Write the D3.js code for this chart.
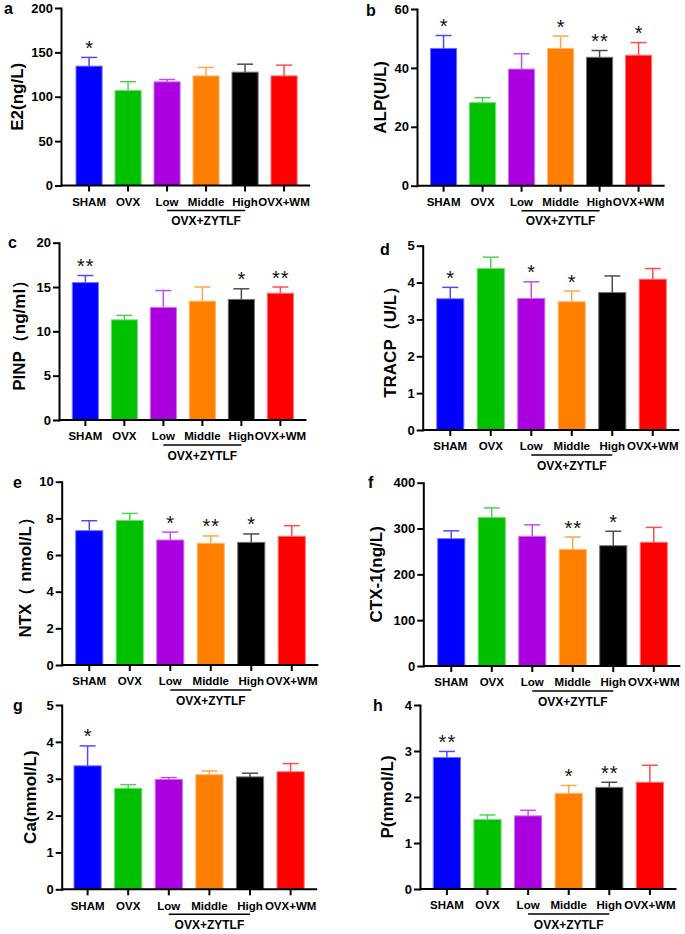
<!DOCTYPE html>
<html>
<head>
<meta charset="utf-8">
<script src="https://cdn.jsdelivr.net/npm/d3@7"></script>
<style>
  body { margin: 0; background: #fff; }
  svg { display: block; font-family: "Liberation Sans", Arial, sans-serif; }
</style>
</head>
<body>
<svg id="chart" width="685" height="934"></svg>
<script>
// groups on the x axis, same in every panel
const groups = ["SHAM", "OVX", "Low", "Middle", "High", "OVX+WM"];
const barColors = ["#0000ff", "#00c000", "#aa00e0", "#ff8000", "#000000", "#ff0000"];

// values: mean and upper error (SD)
const e2Mean = [134.5, 107, 116.8, 123.5, 127.7, 123.5];
const e2Sd = [9.8, 10, 2.6, 9.5, 9, 12.1];
const e2Stars = ["*", "", "", "", "", ""];

const alpMean = [46.6, 28.2, 39.6, 46.6, 43.6, 44.3];
const alpSd = [4.4, 1.7, 5.2, 4.2, 2.3, 4.3];
const alpStars = ["*", "", "", "*", "**", "*"];

const pinpMean = [15.5, 11.3, 12.7, 13.4, 13.6, 14.3];
const pinpSd = [0.8, 0.5, 1.9, 1.6, 1.2, 0.7];
const pinpStars = ["**", "", "", "", "*", "**"];

const tracpMean = [3.56, 4.38, 3.57, 3.48, 3.73, 4.09];
const tracpSd = [0.31, 0.31, 0.45, 0.29, 0.45, 0.29];
const tracpStars = ["*", "", "*", "*", "", ""];

const ntxMean = [7.33, 7.89, 6.82, 6.64, 6.69, 7.02];
const ntxSd = [0.54, 0.38, 0.43, 0.40, 0.46, 0.58];
const ntxStars = ["", "", "*", "**", "*", ""];

const ctxMean = [278, 324, 283, 254.5, 262.5, 270];
const ctxSd = [17, 21, 25, 27, 31.5, 32.5];
const ctxStars = ["", "", "", "**", "*", ""];

const caMean = [3.35, 2.74, 2.98, 3.11, 3.05, 3.19];
const caSd = [0.54, 0.10, 0.05, 0.10, 0.10, 0.22];
const caStars = ["*", "", "", "", "", ""];

const pMean = [2.86, 1.51, 1.59, 2.08, 2.21, 2.32];
const pSd = [0.13, 0.10, 0.12, 0.17, 0.11, 0.37];
const pStars = ["**", "", "", "*", "**", ""];

const panels = [
  { letter: "a", label: "E2(ng/L)", max: 200, step: 50, mean: e2Mean, sd: e2Sd, stars: e2Stars },
  { letter: "b", label: "ALP(U/L)", max: 60, step: 20, mean: alpMean, sd: alpSd, stars: alpStars },
  { letter: "c", label: "PINP（ng/ml）", max: 20, step: 5, mean: pinpMean, sd: pinpSd, stars: pinpStars },
  { letter: "d", label: "TRACP（U/L）", max: 5, step: 1, mean: tracpMean, sd: tracpSd, stars: tracpStars },
  { letter: "e", label: "NTX（ nmol/L）", max: 10, step: 2, mean: ntxMean, sd: ntxSd, stars: ntxStars },
  { letter: "f", label: "CTX-1(ng/L)", max: 400, step: 100, mean: ctxMean, sd: ctxSd, stars: ctxStars },
  { letter: "g", label: "Ca(mmol/L)", max: 5, step: 1, mean: caMean, sd: caSd, stars: caStars },
  { letter: "h", label: "P(mmol/L)", max: 4, step: 1, mean: pMean, sd: pSd, stars: pStars }
];

// where each panel sits on the page
const layout = [
  { x0: 61, top: 8, zero: 185.5, pitch: 39, off: 15, lx: 4, ly: 14, yl: 17 },
  { x0: 417, top: 9, zero: 185.7, pitch: 39, off: 13.5, lx: 366, ly: 16, yl: 380 },
  { x0: 59, top: 242.7, zero: 420, pitch: 39, off: 13.3, lx: 8, ly: 248, yl: 19.5 },
  { x0: 422.7, top: 245.7, zero: 430, pitch: 40.5, off: 14, lx: 380, ly: 255, yl: 390 },
  { x0: 61.7, top: 481.7, zero: 665, pitch: 40.5, off: 14, lx: 13, ly: 488, yl: 25 },
  { x0: 423.3, top: 482.7, zero: 666, pitch: 40.5, off: 14.4, lx: 368, ly: 488, yl: 376 },
  { x0: 61.7, top: 705, zero: 889.3, pitch: 40.6, off: 12.3, lx: 13, ly: 711, yl: 30 },
  { x0: 420, top: 705, zero: 889, pitch: 40.6, off: 13.3, lx: 373, ly: 711, yl: 387.5 }
];

const svg = d3.select("#chart");

function tint(c, t) {
  return d3.interpolateRgb(c, "#ffffff")(t);
}

panels.forEach((p, i) => {
  const L = layout[i];
  const g = svg.append("g");

  const start = L.x0 + L.off - L.pitch * 0.165;
  const x = d3.scaleBand()
    .domain(groups)
    .range([start, start + 6 * L.pitch])
    .paddingInner(0.33)
    .paddingOuter(0.165);
  const y = d3.scaleLinear().domain([0, p.max]).range([L.zero, L.top]);
  const bw = x.bandwidth();
  const xEnd = x("OVX+WM") + bw + 13;

  const rows = groups.map((name, k) => ({
    name: name, mean: p.mean[k], sd: p.sd[k], star: p.stars[k], color: barColors[k]
  }));

  // bars
  g.selectAll("rect.bar")
    .data(rows)
    .enter().append("rect")
    .attr("class", "bar")
    .attr("x", d => x(d.name))
    .attr("y", d => y(d.mean))
    .attr("width", bw)
    .attr("height", d => y(0) - y(d.mean))
    .attr("fill", d => d.color)
    .attr("stroke", d => tint(d.color, 0.45))
    .attr("stroke-width", 1);

  // upper error bars
  const eb = g.selectAll("g.err").data(rows).enter().append("g").attr("class", "err")
    .attr("stroke", d => tint(d.color, 0.3))
    .attr("stroke-width", 1.5);
  eb.append("line")
    .attr("x1", d => x(d.name) + bw / 2).attr("x2", d => x(d.name) + bw / 2)
    .attr("y1", d => y(d.mean)).attr("y2", d => y(d.mean + d.sd));
  eb.append("line")
    .attr("x1", d => x(d.name) + bw / 2 - 8).attr("x2", d => x(d.name) + bw / 2 + 8)
    .attr("y1", d => y(d.mean + d.sd)).attr("y2", d => y(d.mean + d.sd));

  // significance marks
  g.selectAll("text.star")
    .data(rows.filter(d => d.star))
    .enter().append("text")
    .attr("class", "star")
    .attr("x", d => x(d.name) + bw / 2 + (d.star.length > 1 ? 0.5 : 0))
    .attr("y", d => y(d.mean + d.sd) - 2.5)
    .attr("text-anchor", "middle")
    .attr("font-size", 20)
    .attr("letter-spacing", d => d.star.length > 1 ? "1px" : null)
    .attr("fill", "#111")
    .text(d => d.star);

  // y axis
  const ya = g.append("g")
    .attr("transform", `translate(${L.x0},0)`)
    .call(d3.axisLeft(y)
      .tickValues(d3.range(0, p.max + p.step / 2, p.step))
      .tickFormat(d3.format("d"))
      .tickSize(6).tickSizeOuter(0).tickPadding(2));
  ya.select(".domain").attr("stroke-width", 2).attr("stroke-linecap", "square");
  ya.selectAll(".tick line").attr("stroke-width", 2);
  ya.selectAll(".tick text")
    .attr("font-size", 13).attr("font-weight", "bold").attr("fill", "#000")
    .attr("font-family", "'Liberation Sans', Arial, sans-serif");

  // x axis
  const xa = g.append("g")
    .attr("transform", `translate(0,${L.zero})`)
    .call(d3.axisBottom(x).tickSize(6).tickSizeOuter(0).tickPadding(6.3));
  xa.select(".domain").remove();
  xa.append("line")
    .attr("x1", L.x0).attr("x2", xEnd)
    .attr("stroke", "#000").attr("stroke-width", 2);
  xa.selectAll(".tick line").attr("stroke-width", 2);
  xa.selectAll(".tick text")
    .attr("font-size", 11.5).attr("font-weight", "bold").attr("fill", "#000")
    .attr("font-family", "'Liberation Sans', Arial, sans-serif");

  // OVX+ZYTLF bracket
  g.append("line")
    .attr("x1", x("Low") + bw / 2).attr("x2", x("High") + bw / 2)
    .attr("y1", L.zero + 25).attr("y2", L.zero + 25)
    .attr("stroke", "#000").attr("stroke-width", 1.5);
  g.append("text")
    .attr("x", x("Middle") + bw / 2)
    .attr("y", L.zero + 39.5)
    .attr("text-anchor", "middle")
    .attr("font-size", 12).attr("font-weight", "bold")
    .text("OVX+ZYTLF");

  // y title
  g.append("text")
    .attr("transform", `translate(${L.yl},${(L.top + L.zero) / 2}) rotate(-90)`)
    .attr("text-anchor", "middle")
    .attr("dominant-baseline", "central")
    .attr("font-size", 17).attr("font-weight", "bold")
    .text(p.label);

  // panel letter
  g.append("text")
    .attr("x", L.lx).attr("y", L.ly)
    .attr("font-size", 16).attr("font-weight", "bold")
    .text(p.letter);
});
</script>
</body>
</html>
